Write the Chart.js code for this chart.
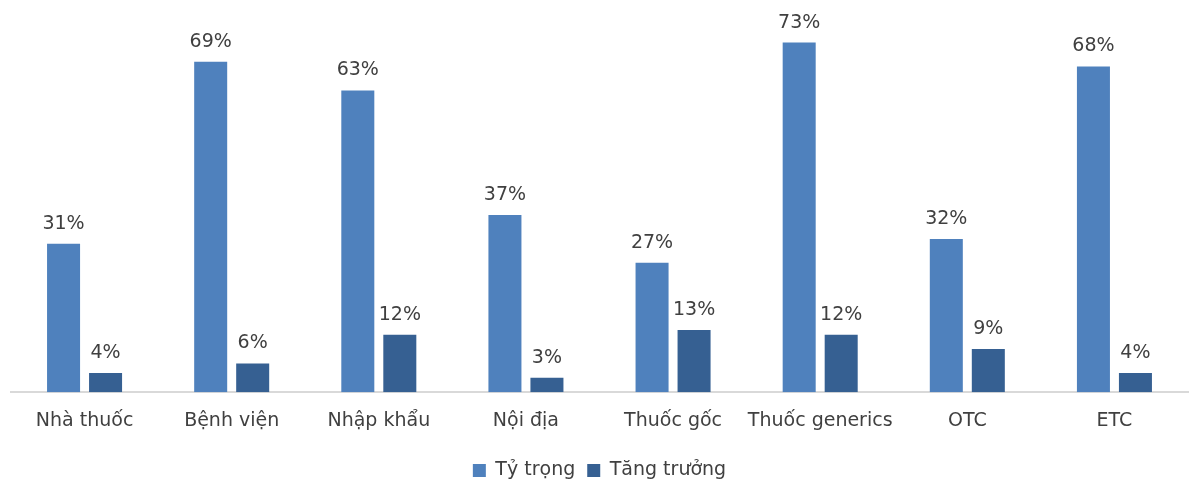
<!DOCTYPE html>
<html><head><meta charset="utf-8">
<script src="https://cdn.jsdelivr.net/npm/chart.js@4.4.0/dist/chart.umd.min.js"></script>
<style>html,body{margin:0;padding:0;background:#fff}#wrap{width:1192px;height:484px;position:relative}</style>
</head><body><div id="wrap"><canvas id="c"></canvas></div>
<script>
const categories = ["Nhà thuốc","Bệnh viện","Nhập khẩu","Nội địa","Thuốc gốc","Thuốc generics","OTC","ETC"];
const tyTrong = [31,69,63,37,27,73,32,68];
const tangTruong = [4,6,12,3,13,12,9,4];
const seriesNames = ["Tỷ trọng","Tăng trưởng"];
const FONT = "DejaVu Sans";
const FS = 19;
const TXT = "#404040";

const labelPlugin = {
  id:'vals',
  afterDatasetsDraw(chart){
    const ctx = chart.ctx;
    ctx.save();
    ctx.font = FS+"px '"+FONT+"'";
    ctx.fillStyle = TXT;
    ctx.textAlign = 'center';
    ctx.textBaseline = 'alphabetic';
    chart.data.datasets.forEach((ds,i)=>{
      chart.getDatasetMeta(i).data.forEach((bar,j)=>{
        ctx.fillText(ds.data[j]+'%', bar.x, bar.y-15);
      });
    });
    ctx.restore();
  }
};

new Chart(document.getElementById('c'),{
  type:'bar',
  data:{labels:categories,datasets:[
    {label:seriesNames[0],data:tyTrong,backgroundColor:'#4F81BD',categoryPercentage:0.571,barPercentage:0.786},
    {label:seriesNames[1],data:tangTruong,backgroundColor:'#366092',categoryPercentage:0.571,barPercentage:0.786}
  ]},
  options:{
    responsive:true,maintainAspectRatio:false,animation:false,
    layout:{padding:{left:11,right:4,top:9,bottom:-6}},
    plugins:{
      legend:{position:'bottom',labels:{font:{family:FONT,size:FS},color:TXT,boxWidth:13,boxHeight:13,padding:12}},
      tooltip:{enabled:false}
    },
    scales:{
      x:{grid:{display:false,drawTicks:false},border:{color:'#d9d9d9',width:2},
         ticks:{font:{family:FONT,size:FS},color:TXT,padding:17,maxRotation:0,minRotation:0,autoSkip:false}},
      y:{display:false,min:0,max:80}
    }
  },
  plugins:[labelPlugin]
});
</script></body></html>
